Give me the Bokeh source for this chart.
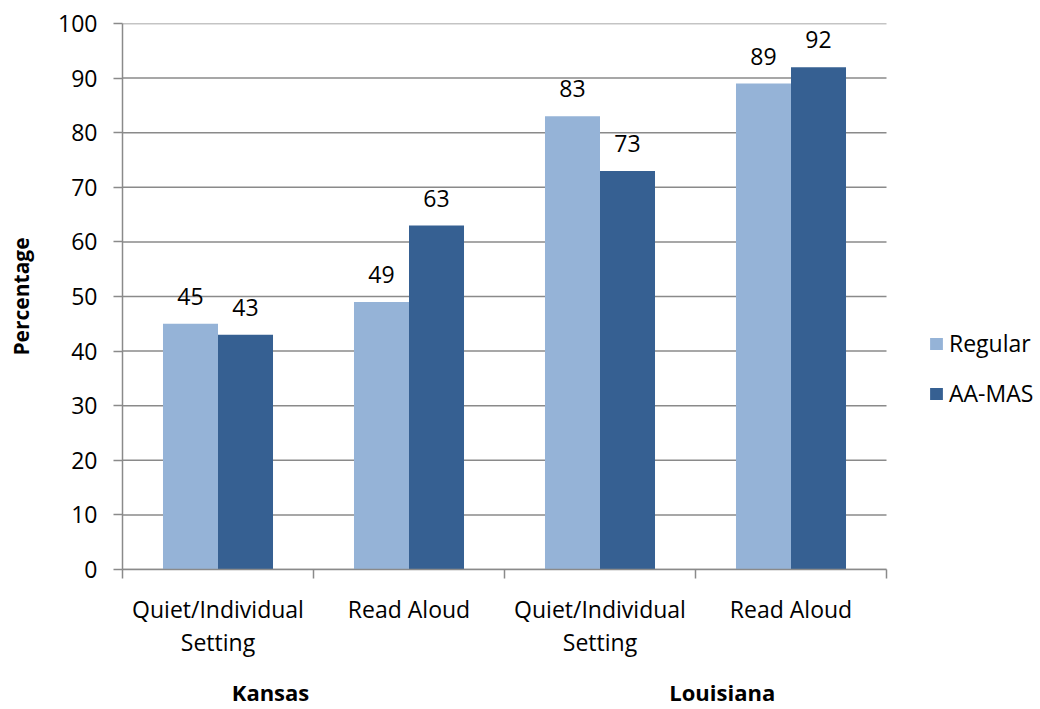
from bokeh.plotting import figure
from bokeh.models import (Range1d, FixedTicker, Legend, LegendItem, LabelSet,
                          ColumnDataSource, LinearAxis)
from bokeh.core.properties import value
from bokeh.embed import file_html
from bokeh.resources import INLINE

categories = ["Quiet/Individual\nSetting", "Read Aloud", "Quiet/Individual\nSetting", "Read Aloud"]
states = ["Kansas", "Louisiana"]
regular = [45, 49, 83, 89]
aa_mas = [43, 63, 73, 92]
y_ticks = [0, 10, 20, 30, 40, 50, 60, 70, 80, 90, 100]

LIGHT = "#95B3D7"
DARK = "#366092"
GRID = "#8a8a8a"
FONT = "Open Sans"
FS = "23px"

W, H = 1040, 709
n = len(categories)
# plot area spans n category slots over 764px; extra room on the right for the legend
x_end = n * (W - 122) / 764
p = figure(width=W, height=H, output_backend="svg", toolbar_location=None,
           x_range=Range1d(0, x_end), y_range=Range1d(0, 100),
           min_border_left=122, min_border_right=0, min_border_top=23,
           min_border_bottom=139)
p.outline_line_color = None
p.background_fill_color = "white"
p.xgrid.visible = False
p.ygrid.visible = False

# horizontal gridlines limited to the category area
p.segment(x0=[0] * len(y_ticks), x1=[n] * len(y_ticks), y0=y_ticks, y1=y_ticks,
          line_color=GRID, line_width=1.5)

bw = 0.288
centers = [i + 0.5 for i in range(n)]
src_r = ColumnDataSource(dict(x=[c - bw / 2 for c in centers], y=regular,
                              t=[str(v) for v in regular]))
src_a = ColumnDataSource(dict(x=[c + bw / 2 for c in centers], y=aa_mas,
                              t=[str(v) for v in aa_mas]))
r1 = p.vbar(x="x", top="y", bottom=0, width=bw, source=src_r,
            fill_color=LIGHT, line_color=None)
r2 = p.vbar(x="x", top="y", bottom=0, width=bw, source=src_a,
            fill_color=DARK, line_color=None)

for src in (src_r, src_a):
    p.add_layout(LabelSet(x="x", y="y", text="t", source=src, y_offset=19,
                          text_align="center", text_baseline="alphabetic",
                          text_font=value(FONT), text_font_size=value(FS),
                          text_color="black"))

# y axis
ya = p.yaxis[0]
ya.ticker = FixedTicker(ticks=y_ticks)
ya.axis_line_color = GRID
ya.axis_line_width = 1.5
ya.major_tick_line_color = GRID
ya.major_tick_line_width = 1.5
ya.major_tick_out = 9
ya.major_tick_in = 0
ya.minor_tick_line_color = None
ya.major_label_text_font = FONT
ya.major_label_text_font_size = FS
ya.major_label_text_color = "black"
ya.major_label_standoff = 16
ya.axis_label = "Percentage"
ya.axis_label_text_font = FONT
ya.axis_label_text_font_size = "21px"
ya.axis_label_text_font_style = "bold"
ya.axis_label_text_color = "black"
ya.axis_label_standoff = 20

# x axis (categories)
xa = p.xaxis[0]
xa.bounds = (0, n)
xa.ticker = FixedTicker(ticks=centers, minor_ticks=list(range(n + 1)))
xa.major_label_overrides = {c: lab for c, lab in zip(centers, categories)}
xa.axis_line_color = GRID
xa.axis_line_width = 1.5
xa.major_tick_line_color = None
xa.major_tick_out = 9
xa.major_tick_in = 0
xa.minor_tick_line_color = GRID
xa.minor_tick_line_width = 1.5
xa.minor_tick_out = 9
xa.minor_tick_in = 0
xa.major_label_text_font = FONT
xa.major_label_text_font_size = FS
xa.major_label_text_color = "black"
xa.major_label_text_line_height = 1.05
xa.major_label_standoff = 14

# second x axis (states)
state_pos = [0.775, 3.14]
xa2 = LinearAxis(ticker=FixedTicker(ticks=state_pos, minor_ticks=[]),
                 major_label_overrides={sx: s for sx, s in zip(state_pos, states)},
                 axis_line_color=None, major_tick_line_color=None,
                 minor_tick_line_color=None, major_tick_out=0, major_tick_in=0,
                 major_label_standoff=15, major_label_text_font=FONT,
                 major_label_text_font_size="22px",
                 major_label_text_font_style="bold",
                 major_label_text_color="black")
p.add_layout(xa2, "below")

legend = Legend(items=[LegendItem(label="Regular", renderers=[r1]),
                       LegendItem(label="AA-MAS", renderers=[r2])],
                location=(806, 160), padding=0, margin=0,
                border_line_color=None, background_fill_alpha=0,
                glyph_width=16, glyph_height=15, label_standoff=5,
                label_text_font=FONT, label_text_font_size=FS,
                label_text_color="black", spacing=18, label_height=15)
p.add_layout(legend, "center")

open("out.html", "w").write(file_html(p, INLINE))
